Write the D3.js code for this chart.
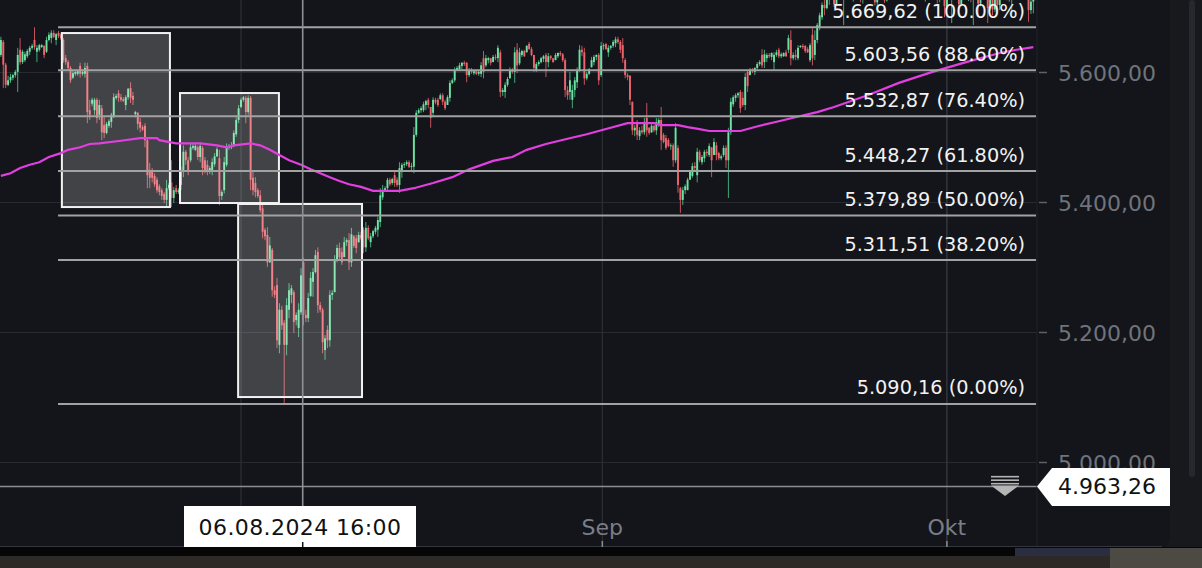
<!DOCTYPE html>
<html><head><meta charset="utf-8">
<script src="https://cdn.jsdelivr.net/npm/d3@7"></script>
<style>html,body{margin:0;padding:0;background:#13151a;overflow:hidden}svg{display:block}</style>
</head><body><svg id="c" width="1202" height="568"></svg>
<script>
// ---- hourly candles (index = hour bar), prices ----
const open = [
5627,5647,5612,5581,5588,5592,5596,5601,5635,5616,
5619,5625,5632,5638,5650,5632,5635,5639,5641,5632,
5650,5653,5661,5650,5661,5658,5650,5622,5616,5607,
5592,5598,5598,5610,5598,5598,5610,5542,5552,5542,
5558,5535,5545,5519,5507,5518,5524,5533,5561,5568,
5562,5559,5550,5562,5576,5564,5536,5538,5524,5516,
5518,5496,5447,5450,5441,5435,5425,5419,5413,5404,
5422,5431,5407,5422,5416,5427,5447,5478,5465,5465,
5484,5481,5485,5470,5484,5465,5458,5450,5447,5459,
5471,5468,5410,5419,5458,5484,5485,5488,5505,5527,
5547,5558,5561,5539,5561,5438,5430,5419,5411,5391,
5358,5350,5308,5327,5265,5273,5181,5235,5215,5181,
5235,5258,5262,5219,5207,5231,5308,5227,5222,5256,
5278,5293,5324,5242,5235,5173,5204,5188,5258,5262,
5311,5330,5324,5316,5339,5342,5308,5348,5345,5339,
5350,5358,5331,5361,5339,5348,5355,5358,5370,5408,
5419,5422,5435,5430,5442,5435,5427,5450,5458,5459,
5462,5455,5455,5504,5538,5542,5542,5550,5558,5547,
5538,5558,5558,5559,5565,5555,5550,5561,5584,5588,
5604,5605,5610,5615,5615,5596,5604,5599,5602,5598,
5598,5622,5611,5619,5622,5616,5624,5622,5631,5570,
5570,5581,5591,5604,5601,5635,5614,5627,5633,5631,
5644,5636,5627,5604,5613,5616,5621,5627,5616,5625,
5622,5619,5625,5630,5628,5619,5573,5570,5558,5573,
5585,5604,5635,5631,5591,5598,5608,5616,5624,5627,
5596,5641,5644,5631,5638,5641,5645,5651,5647,5642,
5619,5596,5595,5555,5511,5524,5502,5511,5508,5530,
5515,5508,5518,5511,5521,5527,5504,5499,5496,5487,
5488,5465,5484,5422,5404,5419,5419,5435,5441,5456,
5442,5478,5462,5468,5478,5473,5485,5473,5488,5476,
5468,5473,5484,5465,5508,5551,5561,5565,5570,5561,
5550,5601,5596,5604,5601,5607,5613,5627,5616,5622,
5627,5624,5616,5627,5635,5625,5625,5631,5635,5650,
5622,5627,5622,5639,5641,5641,5636,5619,5658,5627,
5650,5670,5685,5704,5699,5714,5722,5716,5705,5719,
5727,5714,5724,5733,5728,5717,5728,5735,5730,5712,
5723,5731,5740,5732,5715,5708,5722,5734,5722,5711,
5726,5739,5746,5741,5745,5753,5748,5742,5750,5757,
5751,5739,5745,5748,5743,5734,5741,5746,5754,5750,
5744,5712,5729,5740,5702,5731,5722,5733,5741,5735,
5705,5720,5729,5719,5726,5712,5731,5740,5706,5722,
5730,5720,5699,5716,5697,5714,5704,5722,5731,5726,
5716,5727,5735,5739,5734,5720,5731,5738,5727,5696,
5709];
const high = [
5655,5650,5615,5595,5598,5598,5604,5638,5653,5635,
5632,5636,5641,5644,5669.62,5642,5644,5644,5642,5655,
5662,5665,5665,5661,5664,5661,5653,5627,5619,5610,
5604,5602,5604,5615,5604,5615,5615,5558,5561,5561,
5561,5558,5550,5532,5524,5528,5538,5568,5567,5573,
5567,5562,5565,5576,5585,5570,5541,5539,5530,5519,
5522,5499,5461,5453,5445,5439,5428,5422,5416,5435,
5430,5465,5424,5427,5422,5455,5488,5481,5470,5491,
5490,5490,5488,5493,5487,5470,5465,5456,5468,5476,
5485,5481,5419,5470,5491,5490,5493,5511,5531,5550,
5561,5564,5564,5565,5564,5447,5439,5422,5419,5399,
5361,5362,5347,5330,5271,5284,5245,5241,5219,5253,
5276,5273,5265,5231,5245,5299,5315,5235,5261,5293,
5299,5327,5331,5247,5238,5196,5211,5265,5265,5319,
5335,5338,5331,5347,5345,5353,5361,5350,5350,5355,
5355,5362,5370,5365,5353,5358,5364,5378,5422,5427,
5425,5438,5438,5438,5447,5439,5462,5461,5462,5465,
5465,5461,5516,5542,5545,5548,5555,5558,5561,5547,
5562,5561,5561,5568,5568,5558,5565,5588,5591,5608,
5610,5615,5616,5618,5616,5607,5607,5604,5602,5604,
5616,5633,5627,5624,5622,5627,5628,5642,5635,5576,
5585,5593,5608,5607,5639,5645,5638,5635,5635,5642,
5647,5639,5627,5616,5619,5624,5627,5630,5630,5627,
5622,5630,5631,5633,5630,5622,5579,5601,5581,5593,
5608,5642,5641,5638,5601,5607,5624,5627,5628,5630,
5647,5645,5645,5642,5642,5650,5655,5655,5650,5653,
5622,5599,5596,5555,5519,5527,5516,5518,5530,5553,
5516,5522,5519,5530,5530,5547,5507,5504,5499,5491,
5491,5522,5488,5424,5424,5428,5438,5450,5461,5462,
5484,5481,5473,5481,5482,5491,5485,5499,5493,5478,
5474,5488,5488,5515,5561,5565,5568,5570,5573,5570,
5599,5604,5607,5607,5608,5616,5619,5636,5635,5630,
5630,5631,5631,5635,5638,5631,5631,5635,5658,5665,
5631,5635,5642,5642,5644,5642,5639,5645,5668,5665,
5676,5692,5708,5720,5716,5728,5730,5724,5722,5733,
5731,5729,5737,5740,5736,5731,5739,5742,5738,5726,
5735,5744,5746,5737,5722,5726,5738,5741,5728,5729,
5743,5751,5754,5749,5758,5760,5755,5752,5762,5765,
5757,5748,5754,5756,5750,5745,5750,5758,5762,5757,
5752,5734,5745,5748,5736,5742,5738,5745,5750,5740,
5724,5733,5737,5730,5731,5736,5744,5746,5727,5735,
5738,5726,5720,5722,5718,5722,5727,5736,5740,5734,
5730,5739,5744,5748,5741,5735,5742,5745,5734,5713,
5724];
const low = [
5624,5576,5576,5579,5584,5588,5592,5570,5612,5613,
5616,5622,5627,5635,5635,5616,5632,5638,5622,5630,
5648,5645,5653,5642,5653,5650,5615,5612,5604,5584,
5590,5595,5595,5592,5595,5592,5522,5527,5548,5535,
5522,5527,5496,5499,5505,5515,5515,5530,5558,5555,
5555,5555,5542,5558,5553,5550,5531,5512,5508,5510,
5485,5422,5422,5431,5424,5415,5411,5404,5399,5393,
5419,5393,5399,5413,5413,5419,5439,5458,5442,5462,
5481,5479,5465,5462,5442,5445,5442,5444,5442,5455,
5470,5396,5404,5414,5455,5481,5482,5485,5501,5522,
5545,5555,5522,5535,5419,5411,5408,5407,5384,5345,
5342,5301,5307,5255,5253,5176,5168,5204,5090.16,5165,
5222,5245,5199,5211,5193,5227,5211,5216,5216,5255,
5255,5291,5230,5231,5168,5158,5176,5178,5250,5262,
5308,5311,5304,5316,5333,5296,5301,5330,5322,5338,
5342,5322,5324,5342,5331,5345,5351,5347,5362,5404,
5416,5419,5425,5427,5424,5424,5415,5438,5453,5456,
5453,5450,5445,5501,5536,5538,5539,5542,5545,5515,
5531,5551,5547,5558,5550,5542,5550,5555,5582,5585,
5604,5604,5604,5610,5585,5593,5598,5596,5596,5595,
5593,5591,5608,5614,5611,5616,5619,5616,5562,5564,
5561,5578,5591,5598,5584,5599,5611,5624,5624,5631,
5635,5625,5601,5601,5610,5614,5616,5593,5608,5619,
5615,5619,5622,5625,5616,5562,5558,5558,5545,5562,
5576,5601,5625,5581,5588,5596,5608,5611,5619,5581,
5593,5635,5635,5624,5635,5638,5639,5644,5630,5615,
5591,5588,5550,5504,5502,5496,5496,5505,5504,5501,
5504,5507,5508,5504,5516,5481,5491,5481,5485,5481,
5455,5461,5415,5384,5396,5413,5419,5435,5438,5450,
5431,5462,5458,5462,5471,5470,5439,5473,5465,5465,
5465,5470,5453,5407,5504,5547,5555,5561,5538,5547,
5542,5570,5596,5599,5596,5604,5610,5607,5607,5616,
5622,5619,5604,5624,5622,5622,5624,5624,5630,5611,
5619,5619,5619,5638,5636,5630,5630,5616,5611,5619,
5645,5665,5681,5688,5697,5704,5712,5701,5703,5715,
5712,5673,5720,5724,5714,5709,5722,5726,5708,5706,
5719,5727,5729,5712,5703,5691,5718,5719,5707,5709,
5722,5734,5738,5732,5741,5744,5738,5736,5746,5748,
5736,5724,5739,5740,5730,5709,5735,5742,5747,5741,
5706,5708,5724,5685,5698,5718,5676,5726,5730,5699,
5702,5714,5716,5710,5708,5673,5725,5685,5702,5717,
5716,5676,5695,5688,5693,5700,5696,5718,5722,5711,
5709,5688,5728,5731,5716,5714,5724,5722,5678,5690,
5691];
const close = [
5650,5612,5581,5588,5593,5596,5601,5627,5616,5632,
5628,5633,5638,5641,5639,5638,5642,5642,5627,5650,
5658,5661,5655,5659,5656,5653,5619,5616,5607,5588,
5599,5601,5602,5598,5601,5607,5539,5535,5558,5558,
5530,5550,5508,5507,5521,5525,5535,5562,5564,5561,
5558,5556,5562,5575,5561,5558,5539,5521,5515,5512,
5496,5442,5438,5438,5428,5419,5416,5410,5404,5422,
5427,5407,5419,5416,5419,5447,5478,5465,5447,5485,
5487,5487,5470,5487,5453,5450,5447,5453,5462,5471,
5482,5410,5416,5462,5484,5487,5488,5507,5527,5545,
5558,5562,5539,5561,5435,5419,5416,5410,5388,5355,
5348,5308,5334,5265,5258,5188,5235,5211,5181,5242,
5265,5268,5216,5227,5235,5288,5227,5222,5253,5284,
5293,5319,5242,5235,5185,5191,5188,5258,5261,5311,
5330,5316,5308,5339,5342,5308,5351,5333,5330,5350,
5345,5331,5361,5345,5348,5356,5361,5373,5411,5419,
5422,5435,5428,5436,5430,5427,5453,5458,5459,5462,
5455,5456,5504,5538,5542,5545,5551,5556,5550,5530,
5558,5554,5550,5565,5555,5545,5562,5584,5588,5604,
5607,5611,5615,5613,5596,5604,5601,5602,5598,5601,
5611,5601,5622,5622,5615,5624,5622,5638,5570,5573,
5581,5590,5604,5601,5631,5611,5631,5633,5625,5641,
5636,5627,5607,5613,5616,5622,5625,5616,5625,5622,
5616,5627,5630,5628,5619,5573,5565,5588,5573,5588,
5604,5635,5631,5591,5598,5605,5619,5624,5627,5588,
5641,5642,5636,5638,5641,5647,5651,5647,5635,5622,
5596,5593,5558,5511,5515,5504,5511,5508,5524,5511,
5507,5518,5511,5524,5527,5496,5493,5484,5487,5488,
5465,5515,5427,5404,5419,5425,5435,5447,5456,5453,
5478,5465,5470,5478,5476,5487,5465,5493,5473,5468,
5471,5484,5465,5508,5555,5562,5565,5568,5545,5550,
5593,5579,5604,5602,5607,5613,5616,5611,5628,5627,
5625,5630,5627,5631,5625,5628,5630,5625,5653,5622,
5627,5624,5638,5641,5639,5633,5631,5642,5622,5650,
5673,5688,5704,5699,5714,5722,5716,5705,5719,5727,
5714,5724,5733,5728,5717,5728,5735,5730,5712,5723,
5731,5740,5732,5715,5708,5722,5734,5722,5711,5726,
5739,5746,5741,5745,5753,5748,5742,5750,5757,5751,
5739,5745,5748,5743,5734,5741,5746,5754,5750,5744,
5712,5729,5740,5702,5731,5722,5733,5741,5735,5705,
5720,5729,5719,5726,5712,5731,5740,5706,5722,5730,
5720,5699,5716,5697,5714,5704,5722,5731,5726,5716,
5727,5735,5739,5734,5720,5731,5738,5727,5696,5709,
5720];

// moving average (magenta) read at candle indices
const maIdx = [0,4,8,12,16,20,25,28,33,37,41,50,58,65,66,73,83,90,94,97,104,108,112,116,120,125,129,133,137,141,145,150,155,166,172,180,188,195,205,213,219,227,236,244,252,261,272,275,282,286,291,295,308,316,324,333,340,347,361,374,388,402,416,423,430];
const maVal = [5441,5445,5453,5458,5462,5470,5476,5481,5485,5490,5491,5495,5499,5499,5496,5491,5491,5488,5485,5488,5491,5488,5481,5473,5465,5458,5451,5445,5439,5433,5428,5424,5418,5418,5422,5430,5439,5451,5464,5470,5481,5490,5498,5505,5513,5522,5522,5519,5519,5516,5513,5510,5510,5518,5525,5533,5539,5547,5565,5584,5601,5616,5630,5635,5639];

// Fibonacci retracement
const fibVal = [5669.62,5603.56,5532.87,5448.27,5379.89,5311.51,5090.16];
const fibRatio = [1,0.886,0.764,0.618,0.5,0.382,0];
const fibStartIdx = 23.8;

// rectangles (index range, price range)
const boxStartIdx = [25.4,74.6,98.8];
const boxEndIdx   = [70.4,115.8,150.4];
const boxTop      = [5660.7,5568.4,5397.7];
const boxBottom   = [5393.0,5399.2,5100.7];

// axes
const priceTicks = [5000,5200,5400,5600];
const monthGridIdx = [100,250.5,394];      // Aug, Sep, Okt month starts
const monthLabels = ["Sep","Okt"];          // "Aug" is hidden under the crosshair time label
const monthLabelIdx = [250.5,394];

// crosshair
const crossIdx = 125.7, crossPrice = 4963.26, crossTime = "06.08.2024 16:00";

// ---------------- drawing ----------------
const W=1202,H=568, plotR=1037, panelR=1170, plotB=547;
const FONT = "'DejaVu Sans', Verdana, sans-serif";
const x = d3.scaleLinear().domain([0,430]).range([0.9, 0.9+430*2.401]);
const y = d3.scaleLinear().domain([5000,5600]).range([462.5,72.5]);
const loc = d3.formatLocale({decimal:",",thousands:".",grouping:[3],currency:["","€"]});
const fmt = loc.format(",.2f");
const pct = d3.format(".2%");

const svg = d3.select("#c");
svg.append("rect").attr("width",W).attr("height",H).attr("fill","#17191d");
svg.append("path").attr("d",`M0,0H${panelR}V${plotB-10}Q${panelR},${plotB} ${panelR-10},${plotB}H0Z`).attr("fill","#13151a");
svg.append("rect").attr("x",1189).attr("y",0).attr("width",6).attr("height",477).attr("rx",3).attr("fill","#26282d");
// bottom strip (below the screen)
svg.append("rect").attr("x",0).attr("y",plotB).attr("width",W).attr("height",H-plotB).attr("fill","#060607");
svg.append("rect").attr("x",0).attr("y",556).attr("width",W).attr("height",12).attr("fill","#2c2926");
svg.append("rect").attr("x",1015).attr("y",548).attr("width",95).attr("height",8).attr("fill","#2b2e40");
svg.append("rect").attr("x",1110).attr("y",548).attr("width",92).attr("height",20).attr("fill","#4d4a44");

const defs = svg.append("defs");
defs.append("clipPath").attr("id","plot").append("rect").attr("x",0).attr("y",0).attr("width",plotR).attr("height",plotB);
const g = svg.append("g").attr("clip-path","url(#plot)");

// grid
g.selectAll("line.hg").data(priceTicks).join("line").attr("class","hg")
  .attr("x1",0).attr("x2",plotR).attr("y1",d=>y(d)).attr("y2",d=>y(d))
  .attr("stroke","#272a31").attr("stroke-width",1.2);
g.selectAll("line.vg").data(monthGridIdx).join("line").attr("class","vg")
  .attr("x1",d=>x(d)).attr("x2",d=>x(d)).attr("y1",0).attr("y2",plotB)
  .attr("stroke",(d,i)=>i===2?"#3a3d44":"#2c2f36").attr("stroke-width",1.2);

// candles
const data = d3.range(Math.min(open.length,high.length,low.length,close.length))
  .map(i=>({i,o:open[i],h:high[i],l:low[i],c:close[i]}));
const up = d=>d.c>=d.o;
g.append("g").selectAll("line").data(data).join("line")
  .attr("x1",d=>x(d.i)).attr("x2",d=>x(d.i))
  .attr("y1",d=>y(Math.max(d.h,d.o,d.c))).attr("y2",d=>y(Math.min(d.l,d.o,d.c)))
  .attr("stroke",d=>up(d)?"#45a878":"#c4535d").attr("stroke-width",1);
g.append("g").selectAll("rect").data(data).join("rect")
  .attr("x",d=>x(d.i)-0.95).attr("width",1.9)
  .attr("y",d=>y(Math.max(d.o,d.c)))
  .attr("height",d=>Math.max(1,Math.abs(y(d.o)-y(d.c))))
  .attr("fill",d=>up(d)?"#6ee2a2":"#ee646d");

// boxes
g.selectAll("rect.box").data(d3.range(boxStartIdx.length)).join("rect").attr("class","box")
  .attr("x",i=>x(boxStartIdx[i])).attr("width",i=>x(boxEndIdx[i])-x(boxStartIdx[i]))
  .attr("y",i=>y(boxTop[i])).attr("height",i=>y(boxBottom[i])-y(boxTop[i]))
  .attr("fill","rgba(255,255,255,0.2)").attr("stroke","#f2f2f2").attr("stroke-width",2);

// moving average
g.append("path").datum(d3.zip(maIdx,maVal))
  .attr("d",d3.line().x(d=>x(d[0])).y(d=>y(d[1])))
  .attr("fill","none").attr("stroke","#e23fe0").attr("stroke-width",2.2);

// fib lines + labels
g.selectAll("line.fib").data(fibVal).join("line").attr("class","fib")
  .attr("x1",x(fibStartIdx)).attr("x2",plotR-1).attr("y1",d=>y(d)).attr("y2",d=>y(d))
  .attr("stroke","#a2a2a2").attr("stroke-width",2);
svg.selectAll("text.fib").data(fibVal).join("text").attr("class","fib")
  .attr("x",1025).attr("y",d=>y(d)-9.5).attr("text-anchor","end")
  .attr("font-family",FONT).attr("font-size",19.3).attr("fill","#f2f2f2")
  .text((d,i)=>`${fmt(d)} (${pct(fibRatio[i])})`);

// crosshair
const cx = x(crossIdx), cy = y(crossPrice);
svg.append("line").attr("x1",0).attr("x2",plotR).attr("y1",cy).attr("y2",cy)
  .attr("stroke","#8c8e92").attr("stroke-width",1.5);
svg.append("line").attr("x1",cx).attr("x2",cx).attr("y1",0).attr("y2",plotB)
  .attr("stroke","#8f9196").attr("stroke-width",1.6);

// right axis
svg.append("line").attr("x1",plotR).attr("x2",plotR).attr("y1",0).attr("y2",plotB)
  .attr("stroke","#1f2227").attr("stroke-width",1);
svg.selectAll("line.tk").data(priceTicks).join("line").attr("class","tk")
  .attr("x1",plotR+2).attr("x2",plotR+10).attr("y1",d=>y(d)).attr("y2",d=>y(d))
  .attr("stroke","#5d6168").attr("stroke-width",1.5);
svg.selectAll("text.tk").data(priceTicks).join("text").attr("class","tk")
  .attr("x",1058).attr("y",d=>y(d)+8)
  .attr("font-family",FONT).attr("font-size",22).attr("fill","#6f737b")
  .text(d=>fmt(d));

// bottom axis
svg.append("line").attr("x1",0).attr("x2",panelR-8).attr("y1",plotB-0.5).attr("y2",plotB-0.5)
  .attr("stroke","#33363c").attr("stroke-width",1.2);
svg.selectAll("text.mo").data(monthLabels).join("text").attr("class","mo")
  .attr("x",(d,i)=>x(monthLabelIdx[i])).attr("y",535).attr("text-anchor","middle")
  .attr("font-family",FONT).attr("font-size",22).attr("fill","#7a7e86").text(d=>d);
svg.selectAll("line.mt").data(monthLabelIdx).join("line").attr("class","mt")
  .attr("x1",d=>x(d)).attr("x2",d=>x(d)).attr("y1",541).attr("y2",plotB)
  .attr("stroke","#8a8d92").attr("stroke-width",1.5);

// crosshair time label
svg.append("rect").attr("x",cx-2.7-116).attr("y",506).attr("width",232).attr("height",plotB-506).attr("fill","#ffffff");
svg.append("text").attr("x",cx-2.7).attr("y",535).attr("text-anchor","middle")
  .attr("font-family",FONT).attr("font-size",22).attr("letter-spacing",0.4).attr("fill","#111").text(crossTime);
svg.append("line").attr("x1",cx).attr("x2",cx).attr("y1",542).attr("y2",plotB)
  .attr("stroke","#111").attr("stroke-width",1.5);

// crosshair price label
svg.append("path").attr("d",`M${plotR},${cy}L${plotR+15},${cy-18.5}H${panelR}V${cy+19.5}H${plotR+15}Z`).attr("fill","#ffffff");
svg.append("text").attr("x",1058).attr("y",cy+8)
  .attr("font-family",FONT).attr("font-size",22).attr("fill","#111").text(fmt(crossPrice));

// small "scroll down" icon near the crosshair price
const ic = svg.append("g").attr("fill","#b5b5b5");
[-10.5,-7,-3.5].forEach(dy=>ic.append("rect").attr("x",plotR-46).attr("y",cy+dy).attr("width",28).attr("height",1.6));
ic.append("path").attr("d",`M${plotR-46},${cy-1}H${plotR-18}L${plotR-32},${cy+9.5}Z`);
</script>
</body></html>
